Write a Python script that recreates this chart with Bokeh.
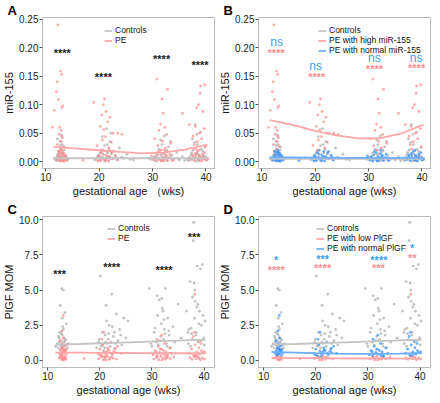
from bokeh.plotting import figure
from bokeh.layouts import gridplot
from bokeh.models import Range1d, FixedTicker, NumeralTickFormatter, Legend, LegendItem
from bokeh.core.properties import value
from bokeh.embed import file_html
from bokeh.resources import INLINE

# ---------------- miR-155 data (panels A, B) ----------------
mir_ctrl_x = [11.8, 12.0, 12.1, 12.2, 12.3, 12.4, 12.5, 12.6, 12.7, 12.8, 12.9, 13.0, 13.1, 13.2, 13.3, 13.4, 13.5, 13.6, 13.8, 14.0, 12.2, 12.6, 13.0, 13.4, 12.4, 12.9, 13.3, 11.6, 14.2, 12.7,
              19.2, 19.6, 20.0, 20.3, 20.5, 20.8, 21.0, 21.2, 21.4, 21.6, 21.8, 22.0, 22.3, 22.6, 23.0, 23.4, 23.8, 24.2, 24.6, 25.2, 25.8, 20.6, 21.1, 21.5, 22.2, 20.2, 21.9, 23.2, 19.8, 26.4,
              29.8, 30.2, 30.5, 30.8, 31.0, 31.2, 31.4, 31.6, 31.8, 32.0, 32.2, 32.4, 32.6, 32.8, 33.0, 33.3, 33.6, 34.0, 34.5, 35.0, 35.6, 31.5, 32.1, 32.7, 30.6, 31.9, 33.4, 29.4, 34.8, 36.0,
              36.6, 36.9, 37.2, 37.4, 37.6, 37.8, 38.0, 38.2, 38.4, 38.6, 38.8, 39.0, 39.2, 39.4, 39.6, 39.8, 40.0, 40.3, 37.5, 38.1, 38.5, 39.1, 37.9, 38.7, 39.5, 36.8, 38.3, 40.2, 37.3, 39.9]
mir_ctrl_y = [0.004, 0.002, 0.008, 0.012, 0.003, 0.006, 0.018, 0.010, 0.001, 0.022, 0.005, 0.014, 0.030, 0.007, 0.003, 0.011, 0.026, 0.004, 0.009, 0.002, 0.040, 0.016, 0.046, 0.020, 0.013, 0.035, 0.001, 0.006, 0.005, 0.028,
              0.003, 0.007, 0.012, 0.002, 0.020, 0.006, 0.028, 0.004, 0.058, 0.015, 0.009, 0.035, 0.005, 0.018, 0.011, 0.003, 0.024, 0.008, 0.006, 0.013, 0.004, 0.044, 0.001, 0.030, 0.050, 0.016, 0.022, 0.007, 0.010, 0.003,
              0.004, 0.008, 0.002, 0.015, 0.006, 0.022, 0.003, 0.012, 0.030, 0.005, 0.045, 0.009, 0.018, 0.002, 0.026, 0.007, 0.011, 0.004, 0.016, 0.003, 0.009, 0.038, 0.001, 0.020, 0.010, 0.014, 0.035, 0.006, 0.005, 0.002,
              0.003, 0.008, 0.012, 0.004, 0.020, 0.006, 0.065, 0.015, 0.030, 0.002, 0.010, 0.052, 0.005, 0.018, 0.008, 0.025, 0.003, 0.006, 0.040, 0.001, 0.013, 0.022, 0.034, 0.007, 0.011, 0.002, 0.048, 0.004, 0.016, 0.009]

mir_high_x = [12.3, 12.8, 13.0, 12.2, 12.0, 12.4, 13.0, 11.6, 13.2, 11.3, 12.6, 12.9, 12.5, 13.1, 12.7, 12.2, 13.3, 12.8, 12.4, 13.0,
              19.0, 21.0, 20.8, 21.3, 20.5, 22.0, 21.6, 20.2, 20.9, 22.6, 23.5, 24.3, 21.2, 20.6, 22.3, 19.6, 21.8, 20.4,
              30.8, 32.8, 31.8, 32.0, 31.5, 35.6, 32.3, 31.2, 32.6, 30.4, 31.9, 33.4, 31.0, 32.4, 31.6,
              39.8, 39.0, 38.9, 38.6, 38.3, 39.4, 36.9, 38.0, 39.7, 38.8, 37.6, 39.2, 38.4, 37.8, 39.9, 38.1]
mir_high_y = [0.240, 0.159, 0.153, 0.140, 0.123, 0.109, 0.095, 0.090, 0.098, 0.060, 0.060, 0.055, 0.048, 0.042, 0.036, 0.030, 0.026, 0.022, 0.018, 0.045,
              0.104, 0.110, 0.100, 0.088, 0.082, 0.078, 0.070, 0.062, 0.056, 0.050, 0.050, 0.048, 0.044, 0.038, 0.034, 0.028, 0.024, 0.020,
              0.145, 0.127, 0.110, 0.085, 0.066, 0.085, 0.060, 0.055, 0.048, 0.040, 0.036, 0.032, 0.028, 0.024, 0.020,
              0.135, 0.133, 0.120, 0.100, 0.095, 0.088, 0.065, 0.062, 0.058, 0.050, 0.045, 0.040, 0.035, 0.030, 0.026, 0.022]

mir_norm_x = [12.1, 12.3, 12.5, 12.6, 12.8, 12.9, 13.0, 13.1, 13.2, 13.3, 13.4, 13.5, 13.6, 13.8, 12.4, 12.7, 13.0, 13.3, 12.2, 12.9, 13.7, 14.0, 12.6, 13.1, 13.5,
              19.6, 19.9, 20.2, 20.4, 20.6, 20.8, 21.0, 21.2, 21.4, 21.6, 21.8, 22.0, 22.3, 22.6, 23.0, 23.4, 20.1, 20.7, 21.3, 21.9, 22.4, 19.8, 20.9, 21.5, 17.0,
              30.2, 30.5, 30.8, 31.0, 31.2, 31.4, 31.6, 31.8, 32.0, 32.2, 32.4, 32.6, 32.8, 33.0, 33.3, 33.6, 31.1, 31.7, 32.3, 30.6, 31.9, 32.5, 33.8, 29.8,
              37.2, 37.5, 37.8, 38.0, 38.2, 38.4, 38.6, 38.8, 39.0, 39.2, 39.4, 39.6, 39.8, 40.0, 38.1, 38.7, 39.3, 37.6, 38.9, 39.5, 40.3]
mir_norm_y = [0.003, 0.008, 0.012, 0.002, 0.016, 0.006, 0.020, 0.004, 0.010, 0.001, 0.014, 0.007, 0.003, 0.009, 0.018, 0.005, 0.012, 0.015, 0.006, 0.002, 0.011, 0.004, 0.008, 0.017, 0.001,
              0.004, 0.010, 0.002, 0.016, 0.007, 0.020, 0.003, 0.012, 0.006, 0.018, 0.001, 0.009, 0.014, 0.005, 0.011, 0.003, 0.008, 0.013, 0.002, 0.006, 0.017, 0.001, 0.005, 0.009, 0.002,
              0.003, 0.008, 0.001, 0.012, 0.005, 0.016, 0.002, 0.009, 0.006, 0.020, 0.004, 0.011, 0.002, 0.007, 0.013, 0.003, 0.018, 0.001, 0.014, 0.006, 0.004, 0.008, 0.002, 0.010,
              0.004, 0.009, 0.002, 0.014, 0.006, 0.018, 0.003, 0.011, 0.007, 0.001, 0.013, 0.005, 0.016, 0.003, 0.010, 0.020, 0.008, 0.012, 0.002, 0.006, 0.004]

# smoothed trend values
fit_x = [11.5, 16, 20, 24, 28, 32, 36, 40.3]
fitA_ctrl = [0.006, 0.006, 0.006, 0.006, 0.006, 0.006, 0.006, 0.006]
fitA_pe = [0.026, 0.023, 0.020, 0.017, 0.0145, 0.016, 0.021, 0.030]
fitB_ctrl = [0.005, 0.005, 0.005, 0.005, 0.005, 0.005, 0.005, 0.005]
fitB_high = [0.073, 0.064, 0.054, 0.046, 0.041, 0.041, 0.049, 0.065]
fitB_norm = [0.0075, 0.0073, 0.0071, 0.0069, 0.0068, 0.0067, 0.0066, 0.0066]

# ---------------- PlGF data (panels C, D) ----------------
plgf_ctrl_x = [11.8, 12.0, 12.2, 12.3, 12.4, 12.5, 12.6, 12.7, 12.8, 12.9, 13.0, 13.1, 13.2, 13.3, 13.4, 13.5, 13.6, 13.8, 14.0, 12.1, 12.4, 12.7, 13.0, 13.3, 12.9, 13.5, 12.6, 12.3, 12.8, 13.1, 11.5, 13.7,
               19.4, 19.8, 20.1, 20.4, 20.7, 21.0, 21.2, 21.4, 21.6, 21.8, 22.0, 22.3, 22.6, 22.9, 23.2, 23.5, 23.8, 24.2, 24.6, 25.0, 25.4, 20.5, 21.1, 21.7, 22.4, 20.9, 23.0, 24.0, 19.9, 21.3, 22.8, 20.3,
               29.5, 30.0, 30.4, 30.8, 31.0, 31.2, 31.4, 31.6, 31.8, 32.0, 32.2, 32.4, 32.6, 32.8, 33.0, 33.3, 33.6, 34.0, 34.4, 35.0, 35.6, 31.1, 31.7, 32.3, 32.9, 30.6, 31.5, 32.1, 33.2, 29.8, 31.9, 32.5,
               36.6, 37.0, 37.3, 37.5, 37.7, 37.9, 38.0, 38.1, 38.2, 38.3, 38.5, 38.7, 38.9, 39.1, 39.3, 39.5, 39.7, 39.9, 40.2, 37.4, 37.8, 38.4, 38.6, 39.0, 39.4, 37.1, 38.2, 39.8, 37.6, 38.8, 40.0, 36.9]
plgf_ctrl_y = [1.2, 0.9, 1.6, 2.0, 1.1, 0.8, 1.4, 5.1, 1.8, 1.0, 2.2, 1.3, 0.7, 3.4, 1.5, 1.1, 2.6, 0.9, 1.2, 1.7, 3.9, 1.0, 5.0, 1.4, 2.4, 0.8, 1.9, 1.3, 3.0, 1.6, 1.0, 1.1,
               0.9, 1.3, 6.0, 1.1, 0.7, 1.8, 3.9, 1.2, 1.5, 2.5, 1.0, 4.7, 1.7, 0.8, 3.3, 1.4, 2.2, 1.1, 3.0, 1.6, 2.8, 2.0, 1.3, 1.9, 2.4, 0.9, 1.2, 1.8, 1.5, 2.8, 2.0, 1.0,
               5.1, 1.0, 2.0, 1.3, 4.6, 1.1, 4.3, 0.8, 2.6, 3.7, 1.5, 2.2, 5.1, 1.2, 3.0, 1.8, 0.9, 2.4, 1.3, 4.0, 1.6, 3.2, 1.7, 2.9, 1.0, 2.3, 1.4, 3.5, 2.1, 1.2, 4.4, 1.9,
               3.5, 1.2, 5.6, 2.3, 1.5, 8.5, 9.8, 5.5, 3.0, 4.2, 2.0, 6.7, 1.3, 3.5, 6.5, 2.5, 6.8, 1.6, 2.8, 1.0, 4.5, 1.8, 3.8, 2.6, 1.4, 2.2, 5.0, 3.2, 1.9, 4.0, 1.1, 2.0]

plgf_low_x = [12.2, 12.5, 12.7, 12.9, 13.1, 13.3, 13.5, 12.4, 12.8, 13.0, 13.4, 12.6, 13.2,
              19.8, 20.3, 20.7, 21.0, 21.4, 21.8, 22.2, 22.6, 23.2, 20.5, 21.2, 21.9, 17.0,
              30.4, 30.9, 31.3, 31.7, 32.1, 32.5, 32.9, 33.5, 31.0, 31.9, 32.7, 34.2,
              37.3, 37.7, 38.1, 38.2, 38.5, 38.9, 39.3, 39.7, 40.1, 38.3, 39.0]
plgf_low_y = [0.15, 0.22, 0.05, 0.28, 0.10, 0.18, 0.08, 0.25, 0.12, 0.03, 0.20, 0.30, 0.14,
              0.12, 0.25, 0.05, 0.18, 0.30, 0.08, 0.22, 0.15, 0.10, 0.28, 0.02, 0.20, 0.13,
              0.10, 0.22, 0.05, 0.28, 0.15, 0.08, 0.20, 0.12, 0.30, 0.03, 0.18, 0.25,
              0.20, 0.08, 0.28, 4.70, 0.12, 0.25, 0.05, 0.18, 0.10, 0.30, 0.15]

plgf_norm_x = [12.2, 12.4, 12.5, 12.6, 12.7, 12.8, 12.9, 13.0, 13.1, 13.2, 13.3, 13.4, 13.5, 13.6, 12.3, 12.7, 13.0, 13.2, 12.9, 13.4, 12.6, 13.1, 13.0, 12.8,
               19.6, 20.0, 20.3, 20.6, 20.9, 21.2, 21.5, 21.8, 22.1, 22.4, 22.7, 23.0, 23.4, 20.4, 21.0, 21.6, 22.2, 20.8, 21.4, 19.9, 22.9, 24.0,
               30.2, 30.6, 30.9, 31.2, 31.5, 31.8, 32.1, 32.4, 32.7, 33.0, 33.4, 31.0, 31.6, 32.2, 32.9, 30.8, 31.9, 32.5, 33.8,
               37.2, 37.6, 38.0, 38.3, 38.6, 38.9, 39.2, 39.5, 39.8, 38.1, 38.5, 39.0, 37.9, 38.8, 39.4, 40.1]
plgf_norm_y = [0.5, 0.7, 0.4, 0.9, 0.6, 1.2, 0.45, 0.8, 0.55, 1.0, 0.65, 0.35, 0.75, 0.5, 1.4, 2.1, 3.2, 0.6, 0.85, 1.1, 0.4, 0.7, 1.6, 0.55,
               0.5, 0.8, 0.35, 1.1, 0.6, 0.45, 0.9, 0.7, 1.3, 0.4, 0.65, 0.55, 1.0, 1.5, 0.3, 0.75, 0.5, 2.0, 0.6, 0.4, 0.85, 0.5,
               0.4, 0.7, 0.35, 1.0, 0.55, 0.8, 0.45, 1.2, 0.6, 0.3, 0.9, 1.5, 0.5, 0.7, 0.4, 0.6, 1.8, 0.35, 0.5,
               0.5, 0.8, 0.4, 1.1, 0.6, 1.4, 0.45, 0.7, 0.55, 2.0, 0.35, 0.9, 1.7, 0.5, 1.2, 0.6]

fitC_ctrl = [1.12, 1.17, 1.22, 1.27, 1.32, 1.37, 1.42, 1.47]
fitC_pe = [0.56, 0.55, 0.54, 0.53, 0.52, 0.51, 0.51, 0.50]
fitD_norm = [0.60, 0.56, 0.52, 0.49, 0.47, 0.47, 0.49, 0.53]
fitD_low = [0.18, 0.17, 0.16, 0.15, 0.14, 0.14, 0.13, 0.13]

# significance labels
sigA_x = [13.1, 20.8, 31.7, 38.9]
sigA_y = [0.190, 0.148, 0.181, 0.169]
sigA_t = ["****", "****", "****", "****"]
sigB_pink_x = [12.7, 20.3, 31.1, 39.0]
sigB_pink_y = [0.190, 0.148, 0.163, 0.164]
sigB_pink_t = ["****", "****", "****", "****"]
sigB_blue_x = [12.8, 20.1, 31.1, 38.9]
sigB_blue_y = [0.210, 0.168, 0.182, 0.182]
sigB_blue_t = ["ns", "ns", "ns", "ns"]
sigC_x = [12.3, 22.3, 32.3, 38.1]
sigC_y = [6.15, 6.6, 6.4, 8.8]
sigC_t = ["***", "****", "****", "***"]
sigD_blue_x = [12.4, 21.3, 32.1, 38.5]
sigD_blue_y = [7.15, 7.2, 7.15, 8.0]
sigD_blue_t = ["*", "***", "****", "*"]
sigD_pink_x = [12.4, 21.3, 32.0, 38.5]
sigD_pink_y = [6.4, 6.55, 6.55, 7.3]
sigD_pink_t = ["****", "****", "***", "**"]

FONT = "Liberation Sans"
GRAY = "#AEAEAE"
GRAY_L = "#C4C4C4"
PINK = "#FF8E8E"
PINK_L = "#FFA6A6"
BLUE = "#3592FF"
BLUE_L = "#6CB0FF"
BLACK = "#1A1A1A"

FW, FH = 172, 151


def make_panel(letter, ylabel, xlabel, xr, yr, yticks, fmt):
    p = figure(frame_width=FW, frame_height=FH, output_backend="svg", toolbar_location=None,
               x_range=Range1d(*xr), y_range=Range1d(*yr),
               min_border_left=30, min_border_right=2, min_border_top=0, min_border_bottom=2)
    p.title.text = letter
    p.title.text_font = FONT
    p.title.text_font_size = "13px"
    p.title.text_font_style = "bold"
    p.title.text_color = "black"
    p.title.align = "left"
    p.title.offset = -35
    p.title.standoff = 0
    p.xgrid.visible = False
    p.ygrid.visible = False
    p.outline_line_color = "#BBBBBB"
    p.outline_line_width = 1
    p.background_fill_color = "white"
    for ax in (p.xaxis[0], p.yaxis[0]):
        ax.axis_line_color = "#BBBBBB"
        ax.major_tick_line_color = "#555555"
        ax.major_tick_out = 3
        ax.major_tick_in = 0
        ax.minor_tick_line_color = None
        ax.major_label_text_font = FONT
        ax.major_label_text_font_size = "10px"
        ax.major_label_text_color = "#222222"
        ax.axis_label_text_font = FONT
        ax.axis_label_text_font_size = "11px"
        ax.axis_label_text_font_style = "normal"
        ax.axis_label_text_color = "#111111"
        ax.major_label_standoff = 1
        ax.axis_label_standoff = 1
    p.xaxis.ticker = FixedTicker(ticks=[10, 20, 30, 40])
    p.yaxis.ticker = FixedTicker(ticks=yticks)
    p.yaxis.formatter = NumeralTickFormatter(format=fmt)
    p.xaxis.axis_label = xlabel
    p.yaxis.axis_label = ylabel
    return p


def pts(p, x, y, color, size=2.8, alpha=0.75):
    p.scatter(x, y, size=size, color=color, alpha=alpha, line_width=0)


def add_legend(p, items, x, top_gap):
    n = len(items)
    leg = Legend(items=items, location=(x, FH - top_gap - n * 10))
    leg.background_fill_alpha = 0
    leg.border_line_color = None
    leg.label_text_font = FONT
    leg.label_text_font_size = "8.5px"
    leg.label_text_color = "#111111"
    leg.glyph_width = 8
    leg.glyph_height = 9
    leg.label_height = 9
    leg.label_standoff = 3
    leg.spacing = 0
    leg.padding = 0
    leg.margin = 0
    p.add_layout(leg, "center")


def sig(p, x, y, t, color, size="11px", style="bold"):
    p.text(x=x, y=y, text=t, text_color=color, text_font=value(FONT),
           text_font_size=size, text_font_style=style, text_align="center", text_baseline="middle")


mir_yticks = [0.0, 0.05, 0.10, 0.15, 0.20, 0.25]
plgf_yticks = [0.0, 2.5, 5.0, 7.5, 10.0]
xr_mir = (9.4, 41.6)
yr_mir = (-0.012, 0.253)
xr_pl = (9.0, 42.0)
yr_pl = (-0.5, 10.22)

# ---- A ----
pA = make_panel("A", "miR-155", "gestational age \uff08wks)", xr_mir, yr_mir, mir_yticks, "0.00")
pts(pA, mir_ctrl_x, mir_ctrl_y, GRAY)
pts(pA, mir_high_x, mir_high_y, PINK)
pts(pA, mir_norm_x, mir_norm_y, PINK)
lA1 = pA.line(fit_x, fitA_ctrl, color=GRAY_L, line_width=1.8)
lA2 = pA.line(fit_x, fitA_pe, color=PINK_L, line_width=1.8)
sig(pA, sigA_x, sigA_y, sigA_t, BLACK)
add_legend(pA, [LegendItem(label="Controls", renderers=[lA1]), LegendItem(label="PE", renderers=[lA2])], 62, 8)

# ---- B ----
pB = make_panel("B", "miR-155", "gestational age (wks)", xr_mir, yr_mir, mir_yticks, "0.00")
pts(pB, mir_ctrl_x, mir_ctrl_y, GRAY)
pts(pB, mir_high_x, mir_high_y, PINK)
pts(pB, mir_norm_x, mir_norm_y, BLUE)
lB1 = pB.line(fit_x, fitB_ctrl, color=GRAY_L, line_width=1.8)
lB2 = pB.line(fit_x, fitB_high, color=PINK_L, line_width=1.8)
lB3 = pB.line(fit_x, fitB_norm, color=BLUE_L, line_width=1.8)
sig(pB, sigB_pink_x, sigB_pink_y, sigB_pink_t, PINK)
sig(pB, sigB_blue_x, sigB_blue_y, sigB_blue_t, "#3AA0F0", "12px", "normal")
add_legend(pB, [LegendItem(label="Controls", renderers=[lB1]),
                LegendItem(label="PE with high miR-155", renderers=[lB2]),
                LegendItem(label="PE with normal miR-155", renderers=[lB3])], 60, 8)

# ---- C ----
pC = make_panel("C", "PlGF MOM", "gestational age (wks)", xr_pl, yr_pl, plgf_yticks, "0.0")
pts(pC, plgf_ctrl_x, plgf_ctrl_y, GRAY)
pts(pC, plgf_low_x, plgf_low_y, PINK)
pts(pC, plgf_norm_x, plgf_norm_y, PINK)
lC1 = pC.line(fit_x, fitC_ctrl, color=GRAY_L, line_width=1.8)
lC2 = pC.line(fit_x, fitC_pe, color=PINK_L, line_width=1.8)
sig(pC, sigC_x, sigC_y, sigC_t, BLACK)
add_legend(pC, [LegendItem(label="Controls", renderers=[lC1]), LegendItem(label="PE", renderers=[lC2])], 65, 7)

# ---- D ----
pD = make_panel("D", "PlGF MOM", "gestational age (wks)", xr_pl, yr_pl, plgf_yticks, "0.0")
pts(pD, plgf_ctrl_x, plgf_ctrl_y, GRAY)
pts(pD, plgf_low_x, plgf_low_y, PINK)
pts(pD, plgf_norm_x, plgf_norm_y, BLUE)
lD1 = pD.line(fit_x, fitC_ctrl, color=GRAY_L, line_width=1.8)
lD2 = pD.line(fit_x, fitD_low, color=PINK_L, line_width=1.8)
lD3 = pD.line(fit_x, fitD_norm, color=BLUE_L, line_width=1.8)
sig(pD, sigD_blue_x, sigD_blue_y, sigD_blue_t, "#3AA0F0")
sig(pD, sigD_pink_x, sigD_pink_y, sigD_pink_t, PINK)
add_legend(pD, [LegendItem(label="Controls", renderers=[lD1]),
                LegendItem(label="PE with low PlGF", renderers=[lD2]),
                LegendItem(label="PE with normal PlGF", renderers=[lD3])], 58, 7)

grid = gridplot([[pA, pB], [pC, pD]], toolbar_location=None)

open("out.html", "w").write(file_html(grid, INLINE))
